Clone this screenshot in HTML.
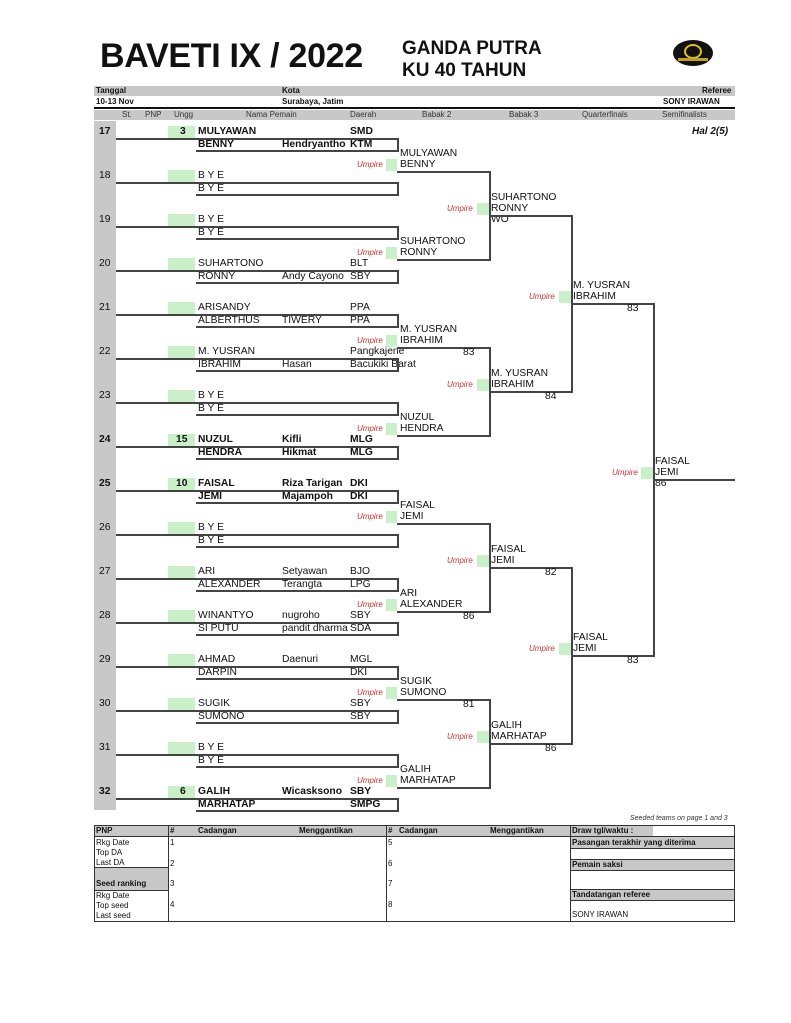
<!DOCTYPE html>
<html><head><meta charset="utf-8">
<style>
body{margin:0;background:#fff;}
#p{position:relative;width:791px;height:1023px;overflow:hidden;font-family:"Liberation Sans",Arial,sans-serif;color:#111;}
#p div{position:absolute;}
.t{font-size:10.3px;line-height:11px;white-space:nowrap;}
.b{font-weight:bold;}
.h{height:2px;background:#444;}
.v{width:2px;background:#444;}
.g{background:#c9f0c9;height:12px;}
.u{font-size:8px;font-style:italic;color:#d03030;line-height:11px;}
.s{font-size:8px;line-height:10px;white-space:nowrap;}
.gr{background:#c8c8c8;}
</style></head><body><div id="p">
<!-- header -->
<div class="b" style="left:100px;top:36px;font-size:34px;line-height:40px;letter-spacing:-0.3px;white-space:nowrap;">BAVETI IX / 2022</div>
<div class="b" style="left:402px;top:38px;font-size:19px;line-height:22px;white-space:nowrap;">GANDA PUTRA<br>KU 40 TAHUN</div>
<div style="left:673px;top:40px;width:40px;height:26px;border-radius:50%;background:#111;"></div>
<div style="left:684px;top:44px;width:18px;height:15px;border-radius:50%;border:2px solid #e0c020;box-sizing:border-box;"></div>
<div style="left:678px;top:58px;width:30px;height:3px;background:#c0a020;"></div>

<div class="gr" style="left:94px;top:86px;width:641px;height:10px;"></div>
<div class="s b" style="left:96px;top:86px;">Tanggal</div>
<div class="s b" style="left:282px;top:86px;">Kota</div>
<div class="s b" style="left:702px;top:86px;">Referee</div>
<div class="s b" style="left:96px;top:97px;">10-13 Nov</div>
<div class="s b" style="left:282px;top:97px;">Surabaya, Jatim</div>
<div class="s b" style="left:663px;top:97px;">SONY IRAWAN</div>
<div style="left:94px;top:107px;width:641px;height:2px;background:#111;"></div>
<div class="gr" style="left:94px;top:110px;width:641px;height:10px;"></div>
<div class="s" style="left:122px;top:110px;color:#333">St.</div>
<div class="s" style="left:145px;top:110px;color:#333">PNP</div>
<div class="s" style="left:174px;top:110px;color:#333">Ungg</div>
<div class="s" style="left:246px;top:110px;color:#333">Nama Pemain</div>
<div class="s" style="left:350px;top:110px;color:#333">Daerah</div>
<div class="s" style="left:422px;top:110px;color:#333">Babak 2</div>
<div class="s" style="left:509px;top:110px;color:#333">Babak 3</div>
<div class="s" style="left:582px;top:110px;color:#333">Quarterfinals</div>
<div class="s" style="left:662px;top:110px;color:#333">Semifinalists</div>
<div class="b" style="left:692px;top:126px;font-size:10px;font-style:italic;">Hal 2(5)</div>
<div class="gr" style="left:94px;top:121px;width:22px;height:689px;"></div>

<!-- 17 -->
<div class="t b" style="left:99px;top:126px;">17</div>
<div class="g" style="left:168px;top:126px;width:27px;"></div>
<div class="t b" style="left:180px;top:126px;">3</div>
<div class="t b" style="left:198px;top:126px;">MULYAWAN</div><div class="t b" style="left:350px;top:126px;">SMD</div>
<div class="h" style="left:116px;top:138px;width:282px;"></div>
<div class="t b" style="left:198px;top:139px;">BENNY</div><div class="t b" style="left:282px;top:139px;">Hendryantho</div><div class="t b" style="left:350px;top:139px;">KTM</div>
<div class="h" style="left:196px;top:150px;width:202px;"></div>
<div class="v" style="left:397px;top:138px;height:14px;"></div>
<!-- 18 -->
<div class="t" style="left:99px;top:170px;">18</div>
<div class="g" style="left:168px;top:170px;width:27px;"></div>
<div class="t" style="left:198px;top:170px;">B Y E</div>
<div class="h" style="left:116px;top:182px;width:282px;"></div>
<div class="t" style="left:198px;top:183px;">B Y E</div>
<div class="h" style="left:196px;top:194px;width:202px;"></div>
<div class="v" style="left:397px;top:182px;height:14px;"></div>
<!-- 19 -->
<div class="t" style="left:99px;top:214px;">19</div>
<div class="g" style="left:168px;top:214px;width:27px;"></div>
<div class="t" style="left:198px;top:214px;">B Y E</div>
<div class="h" style="left:116px;top:226px;width:282px;"></div>
<div class="t" style="left:198px;top:227px;">B Y E</div>
<div class="h" style="left:196px;top:238px;width:202px;"></div>
<div class="v" style="left:397px;top:226px;height:14px;"></div>
<!-- 20 -->
<div class="t" style="left:99px;top:258px;">20</div>
<div class="g" style="left:168px;top:258px;width:27px;"></div>
<div class="t" style="left:198px;top:258px;">SUHARTONO</div><div class="t" style="left:350px;top:258px;">BLT</div>
<div class="h" style="left:116px;top:270px;width:282px;"></div>
<div class="t" style="left:198px;top:271px;">RONNY</div><div class="t" style="left:282px;top:271px;">Andy Cayono</div><div class="t" style="left:350px;top:271px;">SBY</div>
<div class="h" style="left:196px;top:282px;width:202px;"></div>
<div class="v" style="left:397px;top:270px;height:14px;"></div>
<!-- 21 -->
<div class="t" style="left:99px;top:302px;">21</div>
<div class="g" style="left:168px;top:302px;width:27px;"></div>
<div class="t" style="left:198px;top:302px;">ARISANDY</div><div class="t" style="left:350px;top:302px;">PPA</div>
<div class="h" style="left:116px;top:314px;width:282px;"></div>
<div class="t" style="left:198px;top:315px;">ALBERTHUS</div><div class="t" style="left:282px;top:315px;">TIWERY</div><div class="t" style="left:350px;top:315px;">PPA</div>
<div class="h" style="left:196px;top:326px;width:202px;"></div>
<div class="v" style="left:397px;top:314px;height:14px;"></div>
<!-- 22 -->
<div class="t" style="left:99px;top:346px;">22</div>
<div class="g" style="left:168px;top:346px;width:27px;"></div>
<div class="t" style="left:198px;top:346px;">M. YUSRAN</div><div class="t" style="left:350px;top:346px;">Pangkajene</div>
<div class="h" style="left:116px;top:358px;width:282px;"></div>
<div class="t" style="left:198px;top:359px;">IBRAHIM</div><div class="t" style="left:282px;top:359px;">Hasan</div><div class="t" style="left:350px;top:359px;">Bacukiki Barat</div>
<div class="h" style="left:196px;top:370px;width:202px;"></div>
<div class="v" style="left:397px;top:358px;height:14px;"></div>
<!-- 23 -->
<div class="t" style="left:99px;top:390px;">23</div>
<div class="g" style="left:168px;top:390px;width:27px;"></div>
<div class="t" style="left:198px;top:390px;">B Y E</div>
<div class="h" style="left:116px;top:402px;width:282px;"></div>
<div class="t" style="left:198px;top:403px;">B Y E</div>
<div class="h" style="left:196px;top:414px;width:202px;"></div>
<div class="v" style="left:397px;top:402px;height:14px;"></div>
<!-- 24 -->
<div class="t b" style="left:99px;top:434px;">24</div>
<div class="g" style="left:168px;top:434px;width:27px;"></div>
<div class="t b" style="left:176px;top:434px;">15</div>
<div class="t b" style="left:198px;top:434px;">NUZUL</div><div class="t b" style="left:282px;top:434px;">Kifli</div><div class="t b" style="left:350px;top:434px;">MLG</div>
<div class="h" style="left:116px;top:446px;width:282px;"></div>
<div class="t b" style="left:198px;top:447px;">HENDRA</div><div class="t b" style="left:282px;top:447px;">Hikmat</div><div class="t b" style="left:350px;top:447px;">MLG</div>
<div class="h" style="left:196px;top:458px;width:202px;"></div>
<div class="v" style="left:397px;top:446px;height:14px;"></div>
<!-- 25 -->
<div class="t b" style="left:99px;top:478px;">25</div>
<div class="g" style="left:168px;top:478px;width:27px;"></div>
<div class="t b" style="left:176px;top:478px;">10</div>
<div class="t b" style="left:198px;top:478px;">FAISAL</div><div class="t b" style="left:282px;top:478px;">Riza Tarigan</div><div class="t b" style="left:350px;top:478px;">DKI</div>
<div class="h" style="left:116px;top:490px;width:282px;"></div>
<div class="t b" style="left:198px;top:491px;">JEMI</div><div class="t b" style="left:282px;top:491px;">Majampoh</div><div class="t b" style="left:350px;top:491px;">DKI</div>
<div class="h" style="left:196px;top:502px;width:202px;"></div>
<div class="v" style="left:397px;top:490px;height:14px;"></div>
<!-- 26 -->
<div class="t" style="left:99px;top:522px;">26</div>
<div class="g" style="left:168px;top:522px;width:27px;"></div>
<div class="t" style="left:198px;top:522px;">B Y E</div>
<div class="h" style="left:116px;top:534px;width:282px;"></div>
<div class="t" style="left:198px;top:535px;">B Y E</div>
<div class="h" style="left:196px;top:546px;width:202px;"></div>
<div class="v" style="left:397px;top:534px;height:14px;"></div>
<!-- 27 -->
<div class="t" style="left:99px;top:566px;">27</div>
<div class="g" style="left:168px;top:566px;width:27px;"></div>
<div class="t" style="left:198px;top:566px;">ARI</div><div class="t" style="left:282px;top:566px;">Setyawan</div><div class="t" style="left:350px;top:566px;">BJO</div>
<div class="h" style="left:116px;top:578px;width:282px;"></div>
<div class="t" style="left:198px;top:579px;">ALEXANDER</div><div class="t" style="left:282px;top:579px;">Terangta</div><div class="t" style="left:350px;top:579px;">LPG</div>
<div class="h" style="left:196px;top:590px;width:202px;"></div>
<div class="v" style="left:397px;top:578px;height:14px;"></div>
<!-- 28 -->
<div class="t" style="left:99px;top:610px;">28</div>
<div class="g" style="left:168px;top:610px;width:27px;"></div>
<div class="t" style="left:198px;top:610px;">WINANTYO</div><div class="t" style="left:282px;top:610px;">nugroho</div><div class="t" style="left:350px;top:610px;">SBY</div>
<div class="h" style="left:116px;top:622px;width:282px;"></div>
<div class="t" style="left:198px;top:623px;">SI PUTU</div><div class="t" style="left:282px;top:623px;">pandit dharma</div><div class="t" style="left:350px;top:623px;">SDA</div>
<div class="h" style="left:196px;top:634px;width:202px;"></div>
<div class="v" style="left:397px;top:622px;height:14px;"></div>
<!-- 29 -->
<div class="t" style="left:99px;top:654px;">29</div>
<div class="g" style="left:168px;top:654px;width:27px;"></div>
<div class="t" style="left:198px;top:654px;">AHMAD</div><div class="t" style="left:282px;top:654px;">Daenuri</div><div class="t" style="left:350px;top:654px;">MGL</div>
<div class="h" style="left:116px;top:666px;width:282px;"></div>
<div class="t" style="left:198px;top:667px;">DARPIN</div><div class="t" style="left:350px;top:667px;">DKI</div>
<div class="h" style="left:196px;top:678px;width:202px;"></div>
<div class="v" style="left:397px;top:666px;height:14px;"></div>
<!-- 30 -->
<div class="t" style="left:99px;top:698px;">30</div>
<div class="g" style="left:168px;top:698px;width:27px;"></div>
<div class="t" style="left:198px;top:698px;">SUGIK</div><div class="t" style="left:350px;top:698px;">SBY</div>
<div class="h" style="left:116px;top:710px;width:282px;"></div>
<div class="t" style="left:198px;top:711px;">SUMONO</div><div class="t" style="left:350px;top:711px;">SBY</div>
<div class="h" style="left:196px;top:722px;width:202px;"></div>
<div class="v" style="left:397px;top:710px;height:14px;"></div>
<!-- 31 -->
<div class="t" style="left:99px;top:742px;">31</div>
<div class="g" style="left:168px;top:742px;width:27px;"></div>
<div class="t" style="left:198px;top:742px;">B Y E</div>
<div class="h" style="left:116px;top:754px;width:282px;"></div>
<div class="t" style="left:198px;top:755px;">B Y E</div>
<div class="h" style="left:196px;top:766px;width:202px;"></div>
<div class="v" style="left:397px;top:754px;height:14px;"></div>
<!-- 32 -->
<div class="t b" style="left:99px;top:786px;">32</div>
<div class="g" style="left:168px;top:786px;width:27px;"></div>
<div class="t b" style="left:180px;top:786px;">6</div>
<div class="t b" style="left:198px;top:786px;">GALIH</div><div class="t b" style="left:282px;top:786px;">Wicasksono</div><div class="t b" style="left:350px;top:786px;">SBY</div>
<div class="h" style="left:116px;top:798px;width:282px;"></div>
<div class="t b" style="left:198px;top:799px;">MARHATAP</div><div class="t b" style="left:350px;top:799px;">SMPG</div>
<div class="h" style="left:196px;top:810px;width:202px;"></div>
<div class="v" style="left:397px;top:798px;height:14px;"></div>

<!-- Round 2 -->
<div class="t" style="left:400px;top:148px;">MULYAWAN<br>BENNY</div><div class="u" style="left:357px;top:159px;">Umpire</div><div class="g" style="left:386px;top:159px;width:11px;"></div><div class="h" style="left:397px;top:171px;width:92px;"></div>
<div class="t" style="left:400px;top:236px;">SUHARTONO<br>RONNY</div><div class="u" style="left:357px;top:247px;">Umpire</div><div class="g" style="left:386px;top:247px;width:11px;"></div><div class="h" style="left:397px;top:259px;width:92px;"></div>
<div class="t" style="left:400px;top:324px;">M. YUSRAN<br>IBRAHIM</div><div class="u" style="left:357px;top:335px;">Umpire</div><div class="g" style="left:386px;top:335px;width:11px;"></div><div class="h" style="left:397px;top:347px;width:92px;"></div><div class="t" style="left:463px;top:347px;">83</div>
<div class="t" style="left:400px;top:412px;">NUZUL<br>HENDRA</div><div class="u" style="left:357px;top:423px;">Umpire</div><div class="g" style="left:386px;top:423px;width:11px;"></div><div class="h" style="left:397px;top:435px;width:92px;"></div>
<div class="t" style="left:400px;top:500px;">FAISAL<br>JEMI</div><div class="u" style="left:357px;top:511px;">Umpire</div><div class="g" style="left:386px;top:511px;width:11px;"></div><div class="h" style="left:397px;top:523px;width:92px;"></div>
<div class="t" style="left:400px;top:588px;">ARI<br>ALEXANDER</div><div class="u" style="left:357px;top:599px;">Umpire</div><div class="g" style="left:386px;top:599px;width:11px;"></div><div class="h" style="left:397px;top:611px;width:92px;"></div><div class="t" style="left:463px;top:611px;">86</div>
<div class="t" style="left:400px;top:676px;">SUGIK<br>SUMONO</div><div class="u" style="left:357px;top:687px;">Umpire</div><div class="g" style="left:386px;top:687px;width:11px;"></div><div class="h" style="left:397px;top:699px;width:92px;"></div><div class="t" style="left:463px;top:699px;">81</div>
<div class="t" style="left:400px;top:764px;">GALIH<br>MARHATAP</div><div class="u" style="left:357px;top:775px;">Umpire</div><div class="g" style="left:386px;top:775px;width:11px;"></div><div class="h" style="left:397px;top:787px;width:92px;"></div>
<div class="v" style="left:489px;top:171px;height:90px;"></div>
<div class="v" style="left:489px;top:347px;height:90px;"></div>
<div class="v" style="left:489px;top:523px;height:90px;"></div>
<div class="v" style="left:489px;top:699px;height:90px;"></div>

<!-- Round 3 -->
<div class="t" style="left:491px;top:192px;">SUHARTONO<br>RONNY<br>WO</div><div class="u" style="left:447px;top:203px;">Umpire</div><div class="g" style="left:477px;top:203px;width:12px;"></div><div class="h" style="left:489px;top:215px;width:82px;"></div>
<div class="t" style="left:491px;top:368px;">M. YUSRAN<br>IBRAHIM</div><div class="u" style="left:447px;top:379px;">Umpire</div><div class="g" style="left:477px;top:379px;width:12px;"></div><div class="h" style="left:489px;top:391px;width:82px;"></div><div class="t" style="left:545px;top:391px;">84</div>
<div class="t" style="left:491px;top:544px;">FAISAL<br>JEMI</div><div class="u" style="left:447px;top:555px;">Umpire</div><div class="g" style="left:477px;top:555px;width:12px;"></div><div class="h" style="left:489px;top:567px;width:82px;"></div><div class="t" style="left:545px;top:567px;">82</div>
<div class="t" style="left:491px;top:720px;">GALIH<br>MARHATAP</div><div class="u" style="left:447px;top:731px;">Umpire</div><div class="g" style="left:477px;top:731px;width:12px;"></div><div class="h" style="left:489px;top:743px;width:82px;"></div><div class="t" style="left:545px;top:743px;">86</div>
<div class="v" style="left:571px;top:215px;height:178px;"></div>
<div class="v" style="left:571px;top:567px;height:178px;"></div>

<!-- QF -->
<div class="t" style="left:573px;top:280px;">M. YUSRAN<br>IBRAHIM</div><div class="u" style="left:529px;top:291px;">Umpire</div><div class="g" style="left:559px;top:291px;width:12px;"></div><div class="h" style="left:571px;top:303px;width:82px;"></div><div class="t" style="left:627px;top:303px;">83</div>
<div class="t" style="left:573px;top:632px;">FAISAL<br>JEMI</div><div class="u" style="left:529px;top:643px;">Umpire</div><div class="g" style="left:559px;top:643px;width:12px;"></div><div class="h" style="left:571px;top:655px;width:82px;"></div><div class="t" style="left:627px;top:655px;">83</div>
<div class="v" style="left:653px;top:303px;height:354px;"></div>

<!-- SF -->
<div class="t" style="left:655px;top:456px;">FAISAL<br>JEMI<br>86</div><div class="u" style="left:612px;top:467px;">Umpire</div><div class="g" style="left:641px;top:467px;width:12px;"></div><div class="h" style="left:653px;top:479px;width:82px;"></div>

<!-- bottom table -->
<div style="left:630px;top:815px;font-size:7px;font-style:italic;color:#333;white-space:nowrap;">Seeded teams on page 1 and 3</div>
<div style="left:94px;top:825px;width:639px;height:95px;border:1px solid #333;"></div>
<div class="gr" style="left:95px;top:826px;width:639px;height:10px;"></div>
<div class="gr" style="left:95px;top:868px;width:73px;height:22px;"></div>
<div class="gr" style="left:571px;top:837px;width:163px;height:11px;"></div>
<div class="gr" style="left:571px;top:859px;width:163px;height:11px;"></div>
<div class="gr" style="left:571px;top:889px;width:163px;height:11px;"></div>
<div style="left:653px;top:826px;width:81px;height:10px;background:#fff;"></div>
<div style="left:168px;top:825px;width:1px;height:96px;background:#333;"></div>
<div style="left:386px;top:825px;width:1px;height:96px;background:#333;"></div>
<div style="left:570px;top:825px;width:1px;height:96px;background:#333;"></div>
<div style="left:94px;top:836px;width:640px;height:1px;background:#333;"></div>
<div style="left:94px;top:867px;width:74px;height:1px;background:#333;"></div>
<div style="left:94px;top:890px;width:74px;height:1px;background:#333;"></div>
<div style="left:570px;top:848px;width:164px;height:1px;background:#333;"></div>
<div style="left:570px;top:859px;width:164px;height:1px;background:#333;"></div>
<div style="left:570px;top:870px;width:164px;height:1px;background:#333;"></div>
<div style="left:570px;top:889px;width:164px;height:1px;background:#333;"></div>
<div style="left:570px;top:900px;width:164px;height:1px;background:#333;"></div>
<div class="s b" style="left:96px;top:826px;">PNP</div>
<div class="s b" style="left:170px;top:826px;">#</div>
<div class="s b" style="left:198px;top:826px;">Cadangan</div>
<div class="s b" style="left:299px;top:826px;">Menggantikan</div>
<div class="s b" style="left:388px;top:826px;">#</div>
<div class="s b" style="left:399px;top:826px;">Cadangan</div>
<div class="s b" style="left:490px;top:826px;">Menggantikan</div>
<div class="s b" style="left:572px;top:826px;">Draw tgl/waktu :</div>
<div class="s" style="left:96px;top:838px;">Rkg Date<br>Top DA<br>Last DA</div>
<div class="s b" style="left:96px;top:879px;">Seed ranking</div>
<div class="s" style="left:96px;top:891px;">Rkg Date<br>Top seed<br>Last seed</div>
<div class="s" style="left:170px;top:838px;">1</div><div class="s" style="left:170px;top:859px;">2</div><div class="s" style="left:170px;top:879px;">3</div><div class="s" style="left:170px;top:900px;">4</div>
<div class="s" style="left:388px;top:838px;">5</div><div class="s" style="left:388px;top:859px;">6</div><div class="s" style="left:388px;top:879px;">7</div><div class="s" style="left:388px;top:900px;">8</div>
<div class="s b" style="left:572px;top:838px;">Pasangan terakhir yang diterima</div>
<div class="s b" style="left:572px;top:860px;">Pemain saksi</div>
<div class="s b" style="left:572px;top:890px;">Tandatangan referee</div>
<div class="s" style="left:572px;top:910px;">SONY IRAWAN</div>
</div></body></html>
